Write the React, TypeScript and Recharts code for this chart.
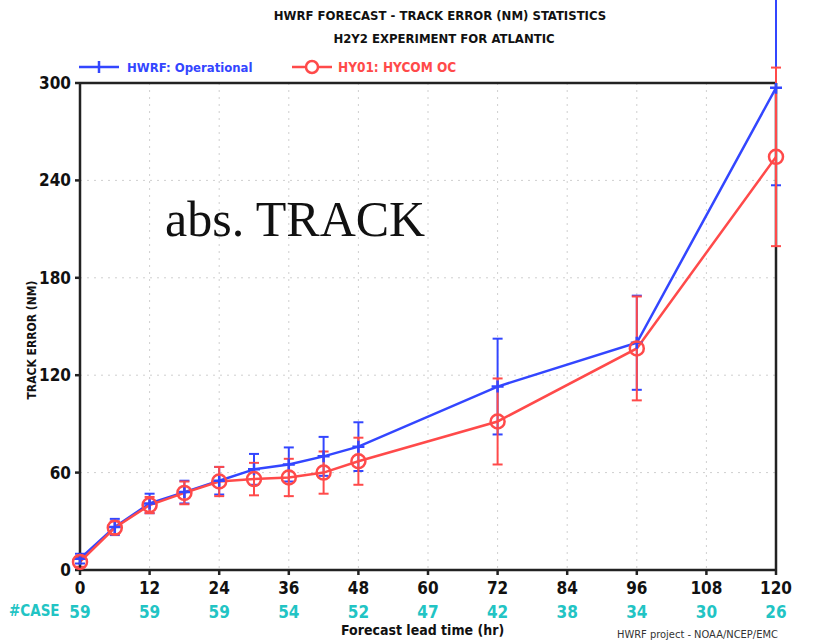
import {
  CartesianGrid,
  ErrorBar,
  Legend,
  Line,
  LineChart,
  ReferenceLine,
  XAxis,
  YAxis,
} from "recharts";

const leadHours = [0, 6, 12, 18, 24, 30, 36, 42, 48, 72, 96, 120];
const hwrfError = [7, 26.5, 41, 48, 55, 62, 65, 70, 76, 113, 140, 297];
const hwrfSpread = [3, 5, 6, 7, 8.5, 9.5, 10.5, 12, 15, 29.5, 29, 60];
const hy01Error = [5, 26, 40, 47.5, 54.5, 56, 57, 60, 67, 91.5, 136.5, 254.5];
const hy01Spread = [3, 4, 5, 7, 9, 10, 11.5, 13, 14.5, 26.5, 32, 55];

const xTicks = [0, 12, 24, 36, 48, 60, 72, 84, 96, 108, 120];
const caseCounts = [59, 59, 59, 54, 52, 47, 42, 38, 34, 30, 26];
const yTicks = [0, 60, 120, 180, 240, 300];

const BLUE = "#3346ff";
const RED = "#ff4a4a";
const CYAN = "#22c4c4";
const FONT = "'Liberation Sans Narrow', 'DejaVu Sans Condensed', 'Liberation Sans', sans-serif";

const data = leadHours.map((hour, i) => ({
  hour,
  hwrf: hwrfError[i],
  hwrfErr: hwrfSpread[i],
  hy01: hy01Error[i],
  hy01Err: hy01Spread[i],
}));

function PlusDot(props: any) {
  const { cx, cy } = props;
  if (cx == null || cy == null) return null;
  return (
    <path
      d={`M${cx - 6},${cy}H${cx + 6}M${cx},${cy - 6}V${cy + 6}`}
      stroke={BLUE}
      strokeWidth={2.5}
      fill="none"
    />
  );
}

function RingDot(props: any) {
  const { cx, cy } = props;
  if (cx == null || cy == null) return null;
  return <circle cx={cx} cy={cy} r={7} stroke={RED} strokeWidth={2.5} fill="none" />;
}

function HourTick(props: any) {
  const { x, y, payload } = props;
  const idx = xTicks.indexOf(payload.value);
  return (
    <g>
      <text
        x={x}
        y={y + 17}
        textAnchor="middle"
        fontFamily={FONT}
        fontWeight="bold"
        fontSize={17}
        fill="#111"
      >
        {payload.value}
      </text>
      {idx >= 0 && (
        <text
          x={x}
          y={y + 41}
          textAnchor="middle"
          fontFamily={FONT}
          fontWeight="bold"
          fontSize={17}
          fill={CYAN}
        >
          {caseCounts[idx]}
        </text>
      )}
    </g>
  );
}

function ErrorTick(props: any) {
  const { x, y, payload } = props;
  return (
    <text
      x={x - 2}
      y={y + 6}
      textAnchor="end"
      fontFamily={FONT}
      fontWeight="bold"
      fontSize={17}
      fill="#111"
    >
      {payload.value}
    </text>
  );
}

function LegendBox() {
  return (
    <svg width={420} height={20} style={{ display: "block" }}>
      <line x1={2} y1={10} x2={42} y2={10} stroke={BLUE} strokeWidth={2.5} />
      <path d="M22,4V16" stroke={BLUE} strokeWidth={2.5} />
      <text x={50} y={15} fontFamily={FONT} fontWeight="bold" fontSize={13} fill={BLUE}>
        HWRF: Operational
      </text>
      <line x1={215} y1={10} x2={255} y2={10} stroke={RED} strokeWidth={2.5} />
      <circle cx={235} cy={10} r={6} stroke={RED} strokeWidth={2.5} fill="#fff" />
      <text x={261} y={15} fontFamily={FONT} fontWeight="bold" fontSize={13.5} fill={RED}>
        HY01: HYCOM OC
      </text>
    </svg>
  );
}

const boldText = { fontFamily: FONT, fontWeight: 700, color: "#111", position: "absolute" as const };

export default function App() {
  return (
    <div style={{ position: "absolute", left: 0, top: 0, width: 826, height: 642, background: "#fff" }}>
      <LineChart
        width={826}
        height={642}
        data={data}
        margin={{ top: 63, right: 50, bottom: 42, left: 20 }}
      >
        <CartesianGrid stroke="#cfcfcf" strokeDasharray="2 5" />
        <XAxis
          dataKey="hour"
          type="number"
          domain={[0, 120]}
          ticks={xTicks}
          tick={<HourTick />}
          height={30}
          stroke="#222"
          strokeWidth={2.5}
          tickSize={5}
          interval={0}
        />
        <YAxis
          type="number"
          domain={[0, 300]}
          ticks={yTicks}
          allowDataOverflow
          tick={<ErrorTick />}
          width={60}
          stroke="#222"
          strokeWidth={2.5}
          tickSize={5}
          interval={0}
        />
        <ReferenceLine y={300} stroke="#222" strokeWidth={2.5} />
        <ReferenceLine x={120} stroke="#222" strokeWidth={2.5} />
        <Legend
          verticalAlign="top"
          align="left"
          content={<LegendBox />}
          wrapperStyle={{ top: 57, left: 77, width: 420 }}
        />
        <Line
          dataKey="hwrf"
          stroke={BLUE}
          strokeWidth={2.5}
          dot={<PlusDot />}
          activeDot={false}
          type="linear"
          isAnimationActive={false}
        >
          <ErrorBar dataKey="hwrfErr" direction="y" width={5} stroke={BLUE} strokeWidth={2} isAnimationActive={false} />
        </Line>
        <Line
          dataKey="hy01"
          stroke={RED}
          strokeWidth={2.5}
          dot={<RingDot />}
          activeDot={false}
          type="linear"
          isAnimationActive={false}
        >
          <ErrorBar dataKey="hy01Err" direction="y" width={5} stroke={RED} strokeWidth={2} isAnimationActive={false} />
        </Line>
      </LineChart>

      <div style={{ ...boldText, left: 0, width: 880, top: 8, textAlign: "center", fontSize: 13 }}>
        HWRF FORECAST - TRACK ERROR (NM) STATISTICS
      </div>
      <div style={{ ...boldText, left: 0, width: 888, top: 31, textAlign: "center", fontSize: 13 }}>
        H2Y2 EXPERIMENT FOR ATLANTIC
      </div>
      <div
        style={{
          ...boldText,
          left: 32,
          top: 340,
          fontSize: 12,
          whiteSpace: "nowrap",
          transform: "translate(-50%, -50%) rotate(-90deg)",
        }}
      >
        TRACK ERROR (NM)
      </div>
      <div style={{ ...boldText, left: 9, top: 602, fontSize: 15, color: CYAN }}>#CASE</div>
      <div style={{ ...boldText, left: 341, top: 622, fontSize: 14 }}>Forecast lead time (hr)</div>
      <div
        style={{
          position: "absolute",
          left: 617,
          top: 628,
          fontFamily: FONT,
          fontSize: 11,
          color: "#333",
          whiteSpace: "nowrap",
        }}
      >
        HWRF project - NOAA/NCEP/EMC
      </div>
      <div
        style={{
          position: "absolute",
          left: 165,
          top: 194,
          fontFamily: "'Liberation Serif', 'Times New Roman', serif",
          fontSize: 50,
          color: "#111",
          whiteSpace: "nowrap",
          lineHeight: 1,
        }}
      >
        abs. TRACK
      </div>
    </div>
  );
}
